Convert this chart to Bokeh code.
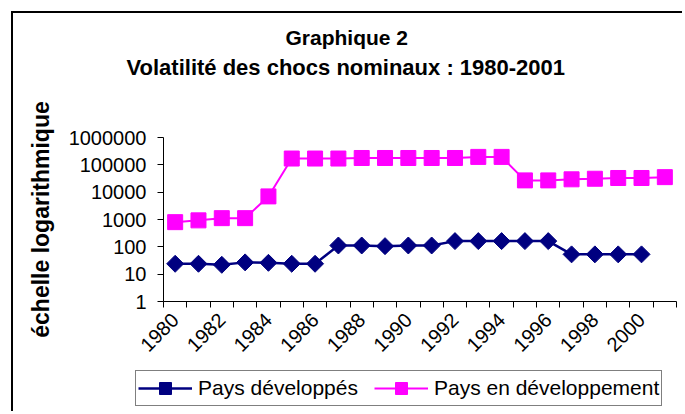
import math
from bokeh.plotting import figure
from bokeh.layouts import column
from bokeh.models import (Range1d, FixedTicker, CustomJSTickFormatter, Legend,
                          LegendItem, Title)
from bokeh.embed import file_html
from bokeh.resources import INLINE

# ---- data ----
years = list(range(1980, 2002))
years_dev = list(range(1980, 2001))
label_years = list(range(1980, 2001, 2))
y_ticks = [1, 10, 100, 1000, 10000, 100000, 1000000]

pays_developpes = [24, 24, 22, 27, 26, 24, 24,
                   112, 112, 106, 112, 112,
                   162, 162, 162, 162, 162,
                   53, 53, 53, 53]
pays_en_developpement = [800, 930, 1120, 1120, 7000,
                         170000, 170000, 170000,
                         178000, 178000, 178000, 178000, 178000,
                         195000, 195000,
                         27000, 27000, 29500, 31000, 33000, 33000, 35500]

FONT = "Liberation Sans"
BLUE = "#000080"
PINK = "#FF00FF"
FRAME = "2px solid black"

# ---------------- main chart ----------------
p = figure(width=671, height=357, output_backend="svg", toolbar_location=None,
           title=None, y_axis_type="log",
           x_range=Range1d(1979.5, 2001.5), y_range=Range1d(1, 1e6),
           min_border_left=150, min_border_right=8,
           min_border_top=124, min_border_bottom=69)
p.margin = (11, 0, 0, 11)
p.styles = {"border-left": FRAME, "border-top": FRAME}

p.xgrid.visible = False
p.ygrid.visible = False
p.outline_line_color = None
p.background_fill_color = "white"
p.border_fill_color = "white"

p.line(years, pays_en_developpement, color=PINK, line_width=2)
p.scatter(years, pays_en_developpement, marker="square", size=15, color=PINK)
p.line(years_dev, pays_developpes, color=BLUE, line_width=2.5)
p.scatter(years_dev, pays_developpes, marker="square", angle=math.pi / 4,
          size=12, color=BLUE)

# x axis
xa = p.xaxis[0]
xa.ticker = FixedTicker(ticks=label_years,
                        minor_ticks=[y - 0.5 for y in years] + [years[-1] + 0.5])
xa.formatter = CustomJSTickFormatter(code="return tick.toFixed(0)")
xa.major_tick_in = 0
xa.major_tick_out = 0
xa.minor_tick_in = 0
xa.minor_tick_out = 6
xa.minor_tick_line_color = "black"
xa.axis_line_color = "black"
xa.major_label_orientation = math.pi / 4
xa.major_label_text_font = FONT
xa.major_label_text_font_size = "20px"
xa.major_label_text_color = "black"
xa.major_label_standoff = 9

# y axis
ya = p.yaxis[0]
ya.ticker = FixedTicker(ticks=y_ticks, minor_ticks=[])
ya.formatter = CustomJSTickFormatter(code="return tick.toFixed(0)")
ya.major_tick_in = 0
ya.major_tick_out = 6
ya.major_tick_line_color = "black"
ya.axis_line_color = "black"
ya.major_label_text_font = FONT
ya.major_label_text_font_size = "20px"
ya.major_label_text_color = "black"
ya.major_label_standoff = 11
ya.axis_label = "échelle logarithmique"
ya.axis_label_text_font = FONT
ya.axis_label_text_font_size = "23px"
ya.axis_label_text_font_style = "bold"
ya.axis_label_text_color = "black"
ya.axis_label_standoff = 12

# titles (spacer nearest the frame, then line 2, then line 1)
spacer = Title(text=" ", text_font_size="1px", standoff=52)
t2 = Title(text="Volatilité des chocs nominaux : 1980-2001", align="left",
           vertical_align="middle", offset=-37,
           text_font=FONT, text_font_size="22px", text_font_style="bold",
           text_color="black", standoff=4)
t1 = Title(text="Graphique 2", align="left", vertical_align="middle",
           offset=122, text_font=FONT, text_font_size="21px",
           text_font_style="bold", text_color="black", standoff=3)
p.add_layout(spacer, "above")
p.add_layout(t2, "above")
p.add_layout(t1, "above")

# ---------------- legend strip ----------------
q = figure(width=671, height=43, output_backend="svg", toolbar_location=None,
           title=None, x_axis_location=None, y_axis_location=None,
           x_range=Range1d(0, 1), y_range=Range1d(0, 1),
           min_border=0)
q.margin = (0, 0, 0, 11)
q.styles = {"border-left": FRAME}
q.xgrid.visible = False
q.ygrid.visible = False
q.outline_line_color = None
q.background_fill_color = "white"
q.border_fill_color = "white"

legend_x = 122
if "frame_align" in q.properties():
    q.frame_align = False
    p.frame_align = False
else:
    legend_x = 122 - 150

# same series, outside the strip's ranges: they only feed the legend
ql_blue = q.line(years_dev, pays_developpes, color=BLUE, line_width=2.5)
qs_blue = q.scatter(years_dev, pays_developpes, marker="square",
                    angle=math.pi / 4, size=12, color=BLUE)
ql_pink = q.line(years, pays_en_developpement, color=PINK, line_width=2)
qs_pink = q.scatter(years, pays_en_developpement, marker="square", size=15,
                    color=PINK)

legend = Legend(items=[LegendItem(label="Pays développés", renderers=[ql_blue, qs_blue]),
                       LegendItem(label="Pays en développement", renderers=[ql_pink, qs_pink])],
                orientation="horizontal", location=(legend_x, 5),
                border_line_color="black", border_line_width=1,
                background_fill_color="white", background_fill_alpha=1,
                label_text_font=FONT, label_text_font_size="21px",
                label_text_color="black",
                glyph_width=54, glyph_height=30, label_height=30,
                spacing=16, padding=2, margin=0, label_standoff=6)
q.add_layout(legend)

layout = column(p, q, spacing=0)
open("out.html", "w").write(file_html(layout, INLINE))
